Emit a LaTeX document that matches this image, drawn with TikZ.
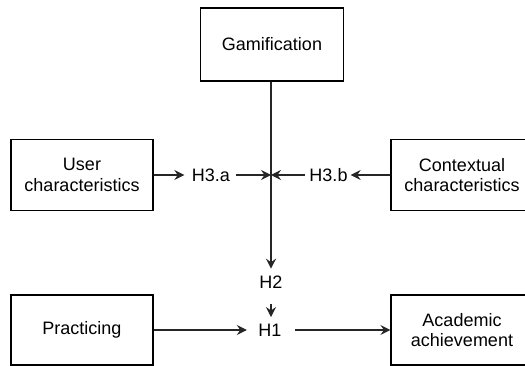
\documentclass[tikz,border=0pt]{standalone}
\usepackage{fontspec}
\setmainfont{Liberation Sans}
\usetikzlibrary{arrows.meta}
\begin{document}
\begin{tikzpicture}[x=1pt,y=1pt,
  box/.style={draw=black,line width=1.1pt,minimum width=142pt,minimum height=71pt,align=center,inner sep=0pt,font=\fontsize{18}{20.5}\selectfont},
  lbl/.style={inner sep=0pt,font=\fontsize{18}{20.5}\selectfont},
  ln/.style={line width=1.1pt,draw=black!85},
  arr/.style={ln,-{Stealth[length=10pt,width=10pt,inset=3.5pt]}}]
\useasboundingbox (0,0) rectangle (525,-366);
\node[box,minimum width=143pt,minimum height=73pt] (gam) at (272,-44.5) {Gamification};
\node[box] (user) at (82,-175) {User\\characteristics};
\node[box] (ctx) at (462,-175) {Contextual\\characteristics};
\node[box,minimum height=70pt] (prac) at (82,-330) {Practicing};
\node[box,minimum height=70pt] (acad) at (462,-330) {Academic\\achievement};
\node[lbl] (h3a) at (211,-175) {H3.a};
\node[lbl] (h3b) at (328.5,-175) {H3.b};
\node[lbl] (h2) at (271,-282) {H2};
\node[lbl] (h1) at (270,-330) {H1};
\coordinate (J) at (271,-175);
\draw[ln] (gam.south -| J) -- (J);
\draw[arr] (J) -- ([yshift=6.8pt]h2.north -| J);
\draw[arr] ([yshift=-16pt]h2.south -| J) -- ([yshift=6.6pt]h1.north -| J);
\draw[arr] (user.east) -- ([xshift=-7.5pt]h3a.west);
\draw[arr] ([xshift=6pt]h3a.east) -- (J);
\draw[arr] (ctx.west) -- ([xshift=3pt]h3b.east);
\draw[arr] ([xshift=-4.5pt]h3b.west) -- (J);
\draw[arr] (prac.east) -- ([xshift=-11.5pt]h1.west);
\draw[arr] ([xshift=13.5pt]h1.east) -- (acad.west);
\end{tikzpicture}
\end{document}
